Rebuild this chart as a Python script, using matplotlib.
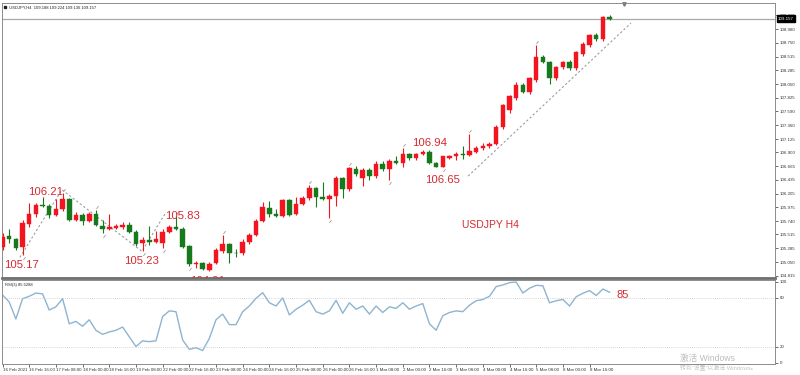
import matplotlib
matplotlib.use("Agg")
import matplotlib.pyplot as plt
from matplotlib.transforms import blended_transform_factory

plt.rcParams['font.family'] = ['Liberation Sans', 'Noto Sans CJK SC', 'DejaVu Sans']

# ── data (USDJPY H4, 16 Feb – 9 Mar 2021) ──────────────────────────────────

OPEN = [105.30, 105.49, 105.44, 105.30, 105.69, 105.86, 106.01, 106.00, 105.84, 105.94,
        106.11, 105.76, 105.84, 105.74, 105.86, 105.66, 105.61, 105.62, 105.64, 105.68,
        105.56, 105.37, 105.42, 105.39, 105.37, 105.56, 105.64, 105.61, 105.32, 105.02,
        105.03, 104.92, 105.03, 105.24, 105.35, 105.21, 105.20, 105.39, 105.51, 105.74,
        105.96, 105.86, 105.83, 106.10, 105.86, 106.03, 106.13, 106.30, 106.15, 106.11,
        106.16, 106.47, 106.28, 106.62, 106.47, 106.60, 106.50, 106.70, 106.62, 106.75,
        106.72, 106.87, 106.80, 106.87, 106.91, 106.72, 106.66, 106.80, 106.84, 106.87,
        106.86, 106.91, 106.97, 107.00, 107.04, 107.33, 107.61, 107.82, 108.04, 107.92,
        108.12, 108.50, 108.42, 108.15, 108.34, 108.42, 108.32, 108.56, 108.71, 108.88,
        108.81, 109.188]
HIGH = [105.54, 105.61, 105.46, 105.76, 106.05, 106.05, 106.15, 106.03, 106.11, 106.21,
        106.13, 105.89, 105.88, 105.89, 105.93, 105.76, 105.86, 105.69, 105.73, 105.73,
        105.59, 105.47, 105.66, 105.57, 105.61, 105.68, 105.83, 105.64, 105.34, 105.06,
        105.05, 105.05, 105.29, 105.51, 105.37, 105.27, 105.44, 105.54, 105.78, 106.06,
        106.08, 105.94, 106.11, 106.11, 106.15, 106.16, 106.35, 106.32, 106.40, 106.19,
        106.50, 106.49, 106.65, 106.67, 106.64, 106.64, 106.75, 106.75, 106.79, 106.84,
        106.97, 106.89, 106.89, 106.94, 106.94, 106.74, 106.84, 106.86, 106.91, 107.01,
        107.21, 107.01, 107.06, 107.07, 107.36, 107.72, 107.87, 108.09, 108.07, 108.17,
        108.71, 108.55, 108.44, 108.36, 108.44, 108.46, 108.61, 108.76, 108.90, 108.91,
        109.20, 109.224]
LOW = [105.25, 105.37, 105.25, 105.17, 105.64, 105.81, 105.98, 105.79, 105.83, 105.91,
       105.74, 105.74, 105.68, 105.73, 105.66, 105.54, 105.59, 105.61, 105.61, 105.54,
       105.32, 105.23, 105.34, 105.37, 105.29, 105.54, 105.59, 105.28, 104.98, 104.95,
       104.91, 104.90, 105.02, 105.20, 105.03, 105.14, 105.17, 105.35, 105.49, 105.73,
       105.81, 105.81, 105.81, 105.83, 105.84, 106.01, 106.10, 105.98, 106.10, 105.79,
       106.00, 106.13, 106.25, 106.50, 106.33, 106.43, 106.47, 106.59, 106.43, 106.70,
       106.65, 106.77, 106.77, 106.86, 106.70, 106.66, 106.65, 106.79, 106.77, 106.79,
       106.84, 106.89, 106.94, 106.97, 107.02, 107.30, 107.56, 107.78, 107.90, 107.88,
       108.09, 108.40, 108.05, 108.12, 108.30, 108.29, 108.29, 108.52, 108.67, 108.78,
       108.78, 109.136]
CLOSE = [105.47, 105.44, 105.29, 105.71, 105.86, 106.01, 106.00, 105.84, 105.94, 106.11,
         105.76, 105.84, 105.74, 105.86, 105.68, 105.61, 105.64, 105.66, 105.68, 105.56,
         105.35, 105.42, 105.39, 105.44, 105.56, 105.64, 105.61, 105.30, 105.02, 105.03,
         104.93, 105.02, 105.25, 105.35, 105.20, 105.20, 105.39, 105.51, 105.74, 105.98,
         105.86, 105.83, 106.10, 105.84, 106.03, 106.13, 106.30, 106.15, 106.11, 106.16,
         106.47, 106.28, 106.64, 106.54, 106.60, 106.50, 106.70, 106.62, 106.75, 106.72,
         106.87, 106.80, 106.87, 106.91, 106.72, 106.65, 106.84, 106.84, 106.87, 106.86,
         106.92, 106.97, 107.01, 107.04, 107.33, 107.70, 107.85, 108.04, 107.92, 108.15,
         108.50, 108.42, 108.15, 108.34, 108.42, 108.32, 108.59, 108.73, 108.88, 108.81,
         109.19, 109.157]

RSI = [83.6, 75, 54, 79, 82, 86, 85, 65, 69, 79,
       48, 51, 45, 53, 40, 35, 38, 40, 44, 32,
       20, 27, 26, 27, 57, 64, 63, 28, 16.5, 18.5,
       15, 30, 53, 60, 47, 47, 63, 70, 79.5, 86.4,
       74, 70, 80, 59, 66, 71, 77, 63, 60, 64,
       77, 61, 74, 66, 70, 60, 70, 62, 69, 67,
       74, 66, 70, 73, 48, 40, 58, 62, 64, 63,
       71, 76.5, 78, 82, 94, 96, 98.8, 99.6, 86, 92,
       95.5, 95, 74, 76.5, 78, 70, 81.5, 85.7, 89, 83,
       91, 87]

TIME_LABELS = ["16 Feb 2021", "16 Feb 16:00", "17 Feb 08:00", "18 Feb 00:00",
               "18 Feb 16:00", "19 Feb 08:00", "22 Feb 00:00", "22 Feb 16:00",
               "23 Feb 08:00", "24 Feb 00:00", "24 Feb 16:00", "25 Feb 08:00",
               "26 Feb 00:00", "26 Feb 16:00", "1 Mar 08:00", "2 Mar 00:00",
               "2 Mar 16:00", "3 Mar 08:00", "4 Mar 00:00", "4 Mar 16:00",
               "5 Mar 08:00", "8 Mar 00:00", "8 Mar 16:00"]
TIME_LABEL_STEP = 4

PRICE_TICKS = [109.215, 108.980, 108.750, 108.515, 108.285, 108.050, 107.825,
               107.590, 107.360, 107.125, 106.900, 106.665, 106.435, 106.205,
               105.975, 105.740, 105.515, 105.285, 105.050, 104.815]
RSI_TICKS = [0, 20, 80, 100]
LAST_PRICE = 109.157

# red price annotations: text, bar position, price position
ANN_TEXT = ["105.17", "106.21", "105.23", "105.83", "106.94", "106.65", "USDJPY H4", "104.91"]
ANN_BAR = [2.9, 6.4, 20.9, 27.0, 64.0, 65.9, 73.1, 30.8]
ANN_PRICE = [105.00, 106.23, 105.07, 105.83, 107.06, 106.43, 105.68, 104.73]

# dotted zigzag and trend line (bar, price)
ZIG_BAR = [2.6, 8.9, 20.9, 24.5]
ZIG_PRICE = [105.13, 106.27, 105.23, 105.89]
TREND_BAR = [69.8, 94.2]
TREND_PRICE = [106.50, 109.08]

# fractal marks
FRAC_UP = [9, 14, 26, 33, 46, 52, 60, 70, 80]
FRAC_DN = [3, 15, 21, 24, 28, 49, 58, 66]

UP_COLOR = "#F2141E"
DN_COLOR = "#16791C"
ANN_COLOR = "#D42A30"

# ── figure ──────────────────────────────────────────────────────────────────
W, H = 800, 375
fig = plt.figure(figsize=(8, 3.75), dpi=100)
fig.patch.set_facecolor("white")


def px_axes(x0, y0, x1, y1):
    return fig.add_axes([x0 / W, 1 - y1 / H, (x1 - x0) / W, (y1 - y0) / H])


ax = px_axes(2, 3, 775, 278)
rax = px_axes(2, 280, 775, 364)

X_LIM = (-0.08, 115.8)
n = len(OPEN)
xs = list(range(n))

# candles
for i in xs:
    o, h, l, c = OPEN[i], HIGH[i], LOW[i], CLOSE[i]
    col = UP_COLOR if c >= o else DN_COLOR
    ax.vlines(i, l, h, color=col, lw=0.8, zorder=2)
    ax.bar(i, max(abs(c - o), 0.008), bottom=min(o, c), width=0.68,
           color=col, edgecolor=col, lw=0.3, zorder=3)

ax.axhline(LAST_PRICE, color="#A8A8A8", lw=0.9, zorder=1)
ax.plot(ZIG_BAR, ZIG_PRICE, color="#9C9C9C", lw=0.8, ls=(0, (2, 2)), zorder=1)
ax.plot(TREND_BAR, TREND_PRICE, color="#9C9C9C", lw=0.8, ls=(0, (2, 2)), zorder=1)

for b in FRAC_UP:
    ax.plot(b + 0.15, HIGH[b] + 0.05, marker=(2, 0, -35), ms=2.5, mew=0.5,
            color="#8A8A8A", zorder=2)
for b in FRAC_DN:
    ax.plot(b + 0.15, LOW[b] - 0.05, marker=(2, 0, -35), ms=2.5, mew=0.5,
            color="#8A8A8A", zorder=2)

for t, b, p in zip(ANN_TEXT, ANN_BAR, ANN_PRICE):
    fs = 7.5 if t.startswith("USD") else 8.2
    ax.text(b, p, t, color=ANN_COLOR, fontsize=fs, ha="center", va="center",
            clip_on=True, zorder=4)

ax.set_xlim(*X_LIM)
ax.set_ylim(104.781, 109.419)
ax.yaxis.tick_right()
ax.set_yticks(PRICE_TICKS)
ax.set_yticklabels([f"{v:.3f}" for v in PRICE_TICKS])
ax.tick_params(axis="y", labelsize=3.2, length=2, width=0.5, pad=1.5,
               colors="#333333")
ax.set_xticks([])
for s in ax.spines.values():
    s.set_color("#8C8C8C")
    s.set_linewidth(0.7)
ax.spines["bottom"].set_linewidth(2.0)
ax.spines["bottom"].set_color("#6E6E6E")

# last price tag on the axis
tr = blended_transform_factory(ax.transAxes, ax.transData)
ax.text(1.004, LAST_PRICE, f"{LAST_PRICE:.3f}", transform=tr, fontsize=3.2,
        color="white", va="center", ha="left", clip_on=False,
        bbox=dict(boxstyle="square,pad=0.25", fc="black", ec="black"))

# header
ax.text(0.009, 0.992, "USDJPY,H4  109.188 109.224 109.136 109.157",
        transform=ax.transAxes, fontsize=3.0, va="top", ha="left", color="#222222")
ax.plot([0.004], [0.985], transform=ax.transAxes, marker="s", ms=1.6,
        color="#202020", clip_on=False)
ax.plot([93.2], [109.40], marker="v", ms=2.5, color="#777777", clip_on=False)

# ── RSI panel ───────────────────────────────────────────────────────────────
rax.plot(xs, RSI, color="#8DB4D0", lw=1.0)
for lvl in (20, 80):
    rax.axhline(lvl, color="#C8C8C8", lw=0.6, ls=(0, (1, 1.5)))
rax.text(92.9, 83.6, "85", color=ANN_COLOR, fontsize=8, ha="center", va="center")
rax.text(0.004, 0.96, "RSI(3) 85.5288", transform=rax.transAxes, fontsize=3.0,
         va="top", ha="left", color="#222222")

rax.set_xlim(*X_LIM)
rax.set_ylim(-1.6, 102.1)
rax.yaxis.tick_right()
rax.set_yticks(RSI_TICKS)
rax.set_yticklabels([str(v) for v in RSI_TICKS])
rax.tick_params(axis="y", labelsize=3.2, length=2, width=0.5, pad=1.5,
                colors="#333333")
tick_pos = [k * TIME_LABEL_STEP for k in range(len(TIME_LABELS))]
rax.set_xticks(tick_pos)
rax.set_xticklabels(TIME_LABELS)
rax.tick_params(axis="x", labelsize=3.2, length=2, width=0.5, pad=1.2,
                colors="#333333")
for lab in rax.get_xticklabels():
    lab.set_ha("left")
for s in rax.spines.values():
    s.set_color("#8C8C8C")
    s.set_linewidth(0.7)

# windows watermark
fig.text(680 / W, 1 - 358 / H, "激活 Windows", fontsize=6.2, color="#BDBDBD",
         va="center", ha="left")
fig.text(680 / W, 1 - 368.5 / H, "转到\u201c设置\u201d以激活 Windows。", fontsize=4.2,
         color="#C4C4C4", va="center", ha="left")

fig.savefig("out.png", dpi=100)
